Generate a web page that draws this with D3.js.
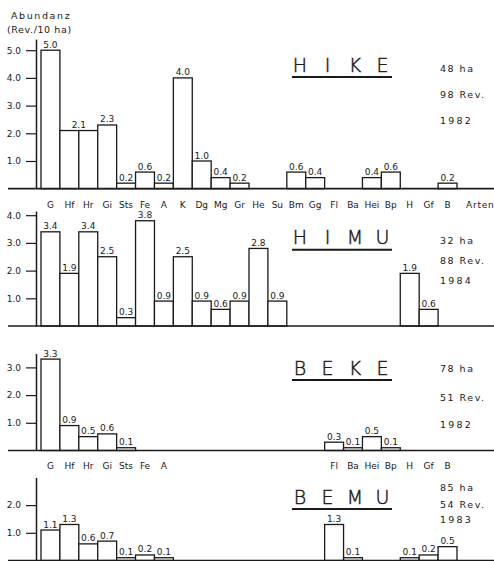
<!DOCTYPE html>
<html>
<head>
<meta charset="utf-8">
<script src="https://cdn.jsdelivr.net/npm/d3@7"></script>
<style>
  body { margin: 0; background: #fff; }
  svg text { font-family: "DejaVu Sans", sans-serif; fill: #1a1a1a; }
</style>
</head>
<body>
<script>
// species codes along the x axis
const categories = ["G","Hf","Hr","Gi","Sts","Fe","A","K","Dg","Mg","Gr","He","Su","Bm","Gg","Fl","Ba","Hei","Bp","H","Gf","B"];
const lowerCategories = ["G","Hf","Hr","Gi","Sts","Fe","A","Fl","Ba","Hei","Bp","H","Gf","B"];

// abundance (Rev./10 ha) per site
const hikeValues = [5.0,2.1,2.1,2.3,0.2,0.6,0.2,4.0,1.0,0.4,0.2,0,0,0.6,0.4,0,0,0.4,0.6,0,0,0.2];
const himuValues = [3.4,1.9,3.4,2.5,0.3,3.8,0.9,2.5,0.9,0.6,0.9,2.8,0.9,0,0,0,0,0,0,1.9,0.6,0];
const bekeValues = [3.3,0.9,0.5,0.6,0.1,0,0,0,0,0,0,0,0,0,0,0.3,0.1,0.5,0.1,0,0,0];
const bemuValues = [1.1,1.3,0.6,0.7,0.1,0.2,0.1,0,0,0,0,0,0,0,0,1.3,0.1,0,0,0.1,0.2,0.5];

const siteNames = ["HIKE","HIMU","BEKE","BEMU"];
const siteInfo = [["48 ha","98 Rev.","1982"],["32 ha","88 Rev.","1984"],["78 ha","51 Rev.","1982"],["85 ha","54 Rev.","1983"]];
const yTicks = [[1,2,3,4,5],[1,2,3,4],[1,2,3],[1,2]];

const width = 494, height = 561;
const unit = 27.7;

// layout of the four stacked panels
const layout = [
  {base: 188.7, max: 5.4,  titleY: 71.5,  infoY: [71.7, 97.7, 124]},
  {base: 326,   max: 4.15, titleY: 244.3, infoY: [244, 264.3, 284.3]},
  {base: 450.5, max: 3.5,  titleY: 374.5, infoY: [372.3, 401, 427.7]},
  {base: 560.5, max: 3.0,  titleY: 503.5, infoY: [490.7, 508.3, 523.3]}
];

const panels = [hikeValues, himuValues, bekeValues, bemuValues].map((values, i) => ({
  name: siteNames[i],
  info: siteInfo[i],
  ticks: yTicks[i],
  values,
  ...layout[i]
}));

const svg = d3.select("body").append("svg")
    .attr("width", width)
    .attr("height", height);

const x = d3.scaleBand()
    .domain(categories)
    .range([41, 457])
    .paddingInner(0)
    .paddingOuter(0);

// y axis title
svg.append("text")
    .attr("x", 11).attr("y", 19)
    .attr("font-size", 9.5)
    .attr("letter-spacing", 1.6)
    .text("Abundanz");
svg.append("text")
    .attr("x", 7).attr("y", 33)
    .attr("font-size", 9.5)
    .attr("letter-spacing", 0.6)
    .text("(Rev./10 ha)");

panels.forEach(p => {
  const g = svg.append("g");
  const y = d3.scaleLinear()
      .domain([0, p.max])
      .range([p.base, p.base - unit * p.max]);

  // bars
  const bars = p.values.map((v, i) => ({cat: categories[i], v, i})).filter(d => d.v > 0);
  g.selectAll("rect")
    .data(bars)
    .join("rect")
      .attr("x", d => x(d.cat))
      .attr("y", d => y(d.v))
      .attr("width", x.bandwidth())
      .attr("height", d => y(0) - y(d.v))
      .attr("fill", "#fff")
      .attr("stroke", "#1a1a1a")
      .attr("stroke-width", 1.3);

  // value labels; adjacent equal bars share one label
  const labels = [];
  bars.forEach(d => {
    const prev = labels[labels.length - 1];
    if (prev && prev.i === d.i - 1 && prev.v === d.v && !prev.merged) {
      prev.cx = x(d.cat);
      prev.merged = true;
      prev.i = d.i;
    } else {
      labels.push({...d, cx: x(d.cat) + x.bandwidth() / 2});
    }
  });
  g.selectAll("text.val")
    .data(labels)
    .join("text")
      .attr("class", "val")
      .attr("x", d => d.cx)
      .attr("y", d => y(d.v) - 2.5)
      .attr("text-anchor", "middle")
      .attr("font-size", 9)
      .text(d => d3.format(".1f")(d.v));

  // y axis
  const axis = g.append("g")
      .attr("transform", "translate(36,0)")
      .call(d3.axisLeft(y).tickValues(p.ticks).tickFormat(d3.format(".1f")).tickSize(10).tickSizeOuter(0).tickPadding(5));
  axis.select(".domain").attr("stroke", "#1a1a1a").attr("stroke-width", 1.5);
  axis.selectAll(".tick line").attr("stroke", "#1a1a1a").attr("stroke-width", 1.2);
  axis.selectAll(".tick text").attr("font-size", 9).attr("font-family", "DejaVu Sans, sans-serif").attr("fill", "#1a1a1a");

  // baseline
  g.append("line")
      .attr("x1", 8).attr("x2", width)
      .attr("y1", y(0)).attr("y2", y(0))
      .attr("stroke", "#1a1a1a")
      .attr("stroke-width", 1.7);

  // site title, spaced letters with underline
  g.selectAll("text.title")
    .data(p.name.split(""))
    .join("text")
      .attr("class", "title")
      .attr("x", (d, i) => 300 + i * 27.5)
      .attr("y", p.titleY)
      .attr("text-anchor", "middle")
      .attr("font-size", 19)
      .attr("font-weight", 200)
      .attr("stroke", "#1a1a1a")
      .attr("stroke-width", 0.45)
      .text(d => d);
  g.append("line")
      .attr("x1", 292).attr("x2", 392)
      .attr("y1", p.titleY + 5.5).attr("y2", p.titleY + 5.5)
      .attr("stroke", "#1a1a1a")
      .attr("stroke-width", 2);

  // area, records, year
  g.selectAll("text.info")
    .data(p.info)
    .join("text")
      .attr("class", "info")
      .attr("x", 440)
      .attr("y", (d, i) => p.infoY[i])
      .attr("font-size", 9.5)
      .attr("letter-spacing", (d, i) => i === 2 ? 2.2 : 1.5)
      .text(d => d);
});

// category labels under the first panel
svg.append("g").selectAll("text")
  .data(categories)
  .join("text")
    .attr("x", d => x(d) + x.bandwidth() / 2)
    .attr("y", 207.5)
    .attr("text-anchor", "middle")
    .attr("font-size", 9)
    .text(d => d);
svg.append("text")
    .attr("x", 466).attr("y", 207.5)
    .attr("font-size", 9)
    .attr("letter-spacing", 0.8)
    .text("Arten");

// category labels between BEKE and BEMU
svg.append("g").selectAll("text")
  .data(lowerCategories)
  .join("text")
    .attr("x", d => x(d) + x.bandwidth() / 2)
    .attr("y", 468.5)
    .attr("text-anchor", "middle")
    .attr("font-size", 9)
    .text(d => d);
</script>
</body>
</html>
